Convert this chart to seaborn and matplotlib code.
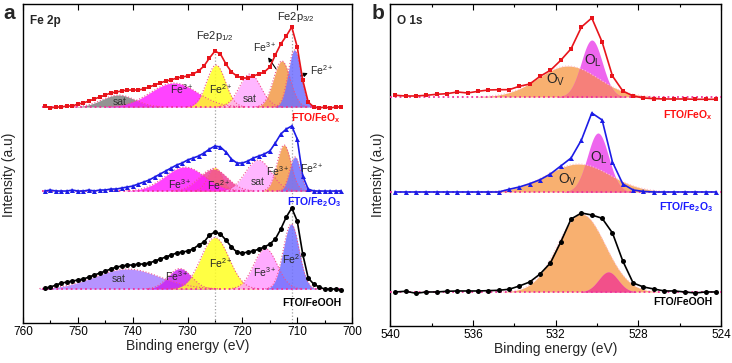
import numpy as np
import matplotlib
matplotlib.use("Agg")
import matplotlib.pyplot as plt
from matplotlib.ticker import MultipleLocator
import seaborn as sns

# ---------------- Fe 2p spectra (height above each baseline) ----------------
fe_energy = [756, 755, 754, 753, 752, 751, 750, 749, 748, 747,
             746, 745, 744, 743, 742, 741, 740, 739, 738, 737,
             736, 735, 734, 733, 732, 731, 730, 729, 728, 727,
             726, 725, 724, 723, 722, 721, 720, 719, 718, 717,
             716, 715, 714, 713, 712, 711, 710, 709, 708, 707,
             706, 705, 704, 703, 702]
fe_feox = [1, -1, 0, 0, 1, 1, 3, 4, 6, 8,
           10, 12, 14, 15, 16, 17, 17, 17, 18, 20,
           22, 24, 26, 27, 29, 30, 31, 33, 36, 41,
           49, 56, 53, 43, 35, 31, 29, 29, 31, 33,
           35, 40, 52, 63, 71, 80, 60, 27, 5, 0,
           -1, 0, -1, 0, 0]
fe_fe2o3 = [0, 1, 0, 0, 0, 1, 0, 0, 1, 0,
            1, 1, 2, 2, 3, 4, 5, 7, 9, 11,
            14, 17, 20, 23, 26, 28, 31, 33, 35, 38,
            42, 45, 44, 39, 32, 28, 28, 30, 33, 35,
            37, 40, 48, 57, 62, 65, 52, 15, 2, 0,
            0, 0, 0, 0, 0]
fe_feooh = [1, 2, 4, 6, 7, 8, 9, 10, 12, 14,
            16, 18, 20, 22, 23, 24, 24, 25, 25, 26,
            28, 30, 32, 34, 36, 37, 38, 40, 44, 47,
            54, 57, 55, 49, 42, 37, 36, 37, 38, 40,
            42, 45, 50, 60, 72, 81, 68, 35, 11, 5,
            2, 0, 0, 0, -1]

# fitted Fe 2p components: centre (eV), height, FWHM (eV)
feox_labels = ["sat", "Fe3+", "Fe2+", "sat", "Fe3+", "Fe2+"]
feox_centers = [742.6, 732.5, 724.8, 718.6, 712.8, 710.5]
feox_heights = [12, 24, 42, 33, 46, 57]
feox_fwhm = [7, 10, 4, 4.6, 3.6, 2.7]

fe2o3_labels = ["Fe2+", "Fe2+", "Fe3+", "sat", "Fe3+", "Fe2+"]
fe2o3_centers = [725.0, 725.3, 730.5, 717.1, 712.4, 710.4]
fe2o3_heights = [23.5, 22, 24, 31, 46, 34]
fe2o3_fwhm = [3, 6, 8.5, 5.5, 3, 2.3]

feooh_labels = ["sat", "Fe3+", "Fe2+", "Fe3+", "Fe2+"]
feooh_centers = [741.0, 731.4, 725.0, 715.8, 711.1]
feooh_heights = [20, 20.5, 51.5, 40.5, 65]
feooh_fwhm = [14, 5, 6, 5, 3.4]

# ---------------- O 1s spectra ----------------
o_energy = [539.75, 539.25, 538.75, 538.25, 537.75, 537.25, 536.75, 536.25,
            535.75, 535.25, 534.75, 534.25, 533.75, 533.25, 532.75, 532.25,
            531.75, 531.25, 530.75, 530.25, 529.75, 529.25, 528.75, 528.25,
            527.75, 527.25, 526.75, 526.25, 525.75, 525.25, 524.75, 524.25]
o_feox = [1.7, 1, 1, 1.7, 2.7, 3.3, 5, 4, 5.7, 7, 7.3, 7.3, 10.7, 13, 20.7, 26.7,
          36.7, 48.3, 70, 79, 55, 21, 6, 1, -1, -1.7, -2, -2, -2, -2.3, -2.3, -2.3]
o_fe2o3 = [0, 0, 0, 0, 0, 0, 0, 0, 0, 0, 0, 2.7, 5, 8.3, 12.3, 18,
           26, 34, 52, 79, 72, 30, 8, 2, 0.5, 0, 0, 0, 0, 0, 0, 0]
o_feooh = [0, 0.7, -1.3, 0, 0, 0.7, 1, 1, 1, 1.3, 1.7, 2.7, 6, 10, 18, 29,
           50, 73, 79, 77, 73.7, 59, 31, 9, 5, 3, 1, 1, 0, -1, 0, 0]

# O 1s components (FeOx, Fe2O3, FeOOH)
ov_centers = [531.4, 530.9, 530.75]
ov_heights = [31, 28, 78]
ov_fwhm = [3.4, 3.6, 2.7]
ol_centers = [530.25, 529.95, 529.45]
ol_heights = [57, 59, 20]
ol_fwhm = [1.2, 1.2, 1.1]

# guide lines for Fe2p1/2 and Fe2p3/2
guide_energies = [725, 711]


def gauss(x, c, h, w):
    return h * np.exp(-4 * np.log(2) * (x - c) ** 2 / w ** 2)


sns.set_style("ticks")
plt.rcParams["font.family"] = ["Liberation Sans", "DejaVu Sans"]
plt.rcParams["mathtext.fontset"] = "custom"
plt.rcParams["mathtext.rm"] = "Liberation Sans"
plt.rcParams["mathtext.it"] = "Liberation Sans:italic"
plt.rcParams["mathtext.bf"] = "Liberation Sans:bold"

fig = plt.figure(figsize=(7.32, 3.63), dpi=100)
ax1 = fig.add_axes([0.0314, 0.110, 0.4496, 0.879])
ax2 = fig.add_axes([0.533, 0.102, 0.452, 0.887])

edge_col = "#f0508a"
base_col = "#f0309a"

# ---------------- panel a ----------------
xs = np.linspace(757, 701, 700)
fe_sets = [
    (fe_feox, 216, feox_centers, feox_heights, feox_fwhm,
     ["#808080", "#ff22ff", "#ffff22", "#ffaaff", "#f39a48", "#7070ff"],
     "#e8141b", "s", 3.2),
    (fe_fe2o3, 132, fe2o3_centers, fe2o3_heights, fe2o3_fwhm,
     ["#ffff22", "#f0409a", "#ff22ff", "#ffaaff", "#f39a48", "#7070ff"],
     "#1c1ce6", "^", 3.6),
    (fe_feooh, 34, feooh_centers, feooh_heights, feooh_fwhm,
     ["#a980ff", "#cc22f2", "#ffff22", "#ff9cff", "#7070ff"],
     "#000000", "o", 3.6),
]

for e in guide_energies:
    top = 270 if e == 725 else 295
    ax1.vlines(e, 0, top, colors="#a0a0a0", linestyles=":", lw=0.9, zorder=1)

for vals, off, cs, hs, ws, cols, lc, mk, ms in fe_sets:
    for c, h, w, col in zip(cs, hs, ws, cols):
        g = gauss(xs, c, h, w)
        m = g > 0.3
        ax1.fill_between(xs[m], off, off + g[m], color=col, alpha=0.85, lw=0, zorder=2)
        ax1.plot(xs[m], off + g[m], color=edge_col, ls=":", lw=0.8, zorder=3)
    ax1.plot([756.5, 702], [off, off], color=base_col, ls=":", lw=1.3, zorder=3)
    sns.lineplot(x=fe_energy, y=np.array(vals) + off, ax=ax1, color=lc, lw=1.2,
                 marker=mk, markersize=ms, mec=lc, mew=0, sort=False, zorder=5)

ax1.set_xlim(760, 700)
ax1.set_ylim(0, 319)

lab_kw = dict(fontsize=7.5, ha="center", va="center", zorder=6)
# FeOx labels
ax1.text(725, 287, r"Fe2p$_{1/2}$", fontsize=8, ha="center", va="center")
ax1.text(710.2, 306, r"Fe2p$_{3/2}$", fontsize=8, ha="center", va="center")
ax1.text(716, 276, r"Fe$^{3+}$", **lab_kw)
ax1.annotate("", xy=(715.6, 268), xytext=(713.6, 252),
             arrowprops=dict(arrowstyle="-|>", color="k", lw=0.8, mutation_scale=6))
ax1.text(705.5, 253, r"Fe$^{2+}$", **lab_kw)
ax1.annotate("", xy=(707.6, 251), xytext=(709.8, 246),
             arrowprops=dict(arrowstyle="-|>", color="k", lw=0.8, mutation_scale=6))
ax1.text(742.4, 221, "sat", color="#333333", **lab_kw)
ax1.text(731, 234, r"Fe$^{3+}$", **lab_kw)
ax1.text(724, 234, r"Fe$^{2+}$", **lab_kw)
ax1.text(718.6, 224, "sat", color="#333333", **lab_kw)
ax1.text(702, 205, r"FTO/FeO$_\mathbf{x}$", color="#ff1010", fontsize=7.5,
         fontweight="bold", ha="right", va="center")
# Fe2O3 labels
ax1.text(731.4, 139, r"Fe$^{3+}$", **lab_kw)
ax1.text(724.4, 138, r"Fe$^{2+}$", **lab_kw)
ax1.text(717.3, 141, "sat", color="#333333", **lab_kw)
ax1.text(713.5, 152, r"Fe$^{3+}$", **lab_kw)
ax1.text(707.4, 155, r"Fe$^{2+}$", **lab_kw)
ax1.text(702, 121, r"FTO/Fe$_\mathbf{2}$O$_\mathbf{3}$", color="#1a1aff", fontsize=7.5,
         fontweight="bold", ha="right", va="center")
# FeOOH labels
ax1.text(742.6, 44, "sat", color="#333333", **lab_kw)
ax1.text(731.9, 47, r"Fe$^{3+}$", **lab_kw)
ax1.text(724, 60, r"Fe$^{2+}$", **lab_kw)
ax1.text(716, 51, r"Fe$^{3+}$", **lab_kw)
ax1.text(710.6, 64, r"Fe$^{2+}$", **lab_kw)
ax1.text(702, 20, "FTO/FeOOH", color="k", fontsize=7.5,
         fontweight="bold", ha="right", va="center")
ax1.text(0.02, 0.965, "Fe 2p", transform=ax1.transAxes, fontsize=8.5,
         fontweight="bold", ha="left", va="top")

# ---------------- panel b ----------------
xo = np.linspace(540, 524, 600)
o_sets = [
    (o_feox, 229, "#e8141b", "s", 3.2, "#f6807a"),
    (o_fe2o3, 134, "#1c1ce6", "^", 3.6, "#f6807a"),
    (o_feooh, 34, "#000000", "o", 3.6, "#f2508a"),
]
for i, (vals, off, lc, mk, ms, ovl) in enumerate(o_sets):
    g_v = gauss(xo, ov_centers[i], ov_heights[i], ov_fwhm[i])
    g_l = gauss(xo, ol_centers[i], ol_heights[i], ol_fwhm[i])
    mv = g_v > 0.3
    ml = g_l > 0.3
    ax2.fill_between(xo[mv], off, off + g_v[mv], color="#f8b070", lw=0, zorder=2)
    ax2.fill_between(xo[ml], off, off + g_l[ml], color="#ee66ee", lw=0, zorder=2)
    g_min = np.minimum(g_v, g_l)
    mm = g_min > 0.3
    ax2.fill_between(xo[mm], off, off + g_min[mm], color=ovl, lw=0, zorder=2)
    ax2.plot(xo[mv], off + g_v[mv], color="#ffc0d0", ls=":", lw=0.8, zorder=3)
    ax2.plot([540, 524], [off, off], color=base_col, ls=":", lw=1.3, zorder=3)
    sns.lineplot(x=o_energy, y=np.array(vals) + off, ax=ax2, color=lc, lw=1.2,
                 marker=mk, markersize=ms, mec=lc, mew=0, sort=False, zorder=5)

ax2.set_xlim(540, 524)
ax2.set_ylim(0, 322)
ax2.text(532.0, 246, r"O$_\mathrm{V}$", fontsize=10, ha="center", va="center")
ax2.text(530.2, 265, r"O$_\mathrm{L}$", fontsize=10, ha="center", va="center")
ax2.text(531.4, 146, r"O$_\mathrm{V}$", fontsize=10, ha="center", va="center")
ax2.text(529.9, 168, r"O$_\mathrm{L}$", fontsize=10, ha="center", va="center")
ax2.text(524.4, 211, r"FTO/FeO$_\mathbf{x}$", color="#ff1010", fontsize=7.5,
         fontweight="bold", ha="right", va="center")
ax2.text(524.4, 119, r"FTO/Fe$_\mathbf{2}$O$_\mathbf{3}$", color="#1a1aff", fontsize=7.5,
         fontweight="bold", ha="right", va="center")
ax2.text(524.4, 24, "FTO/FeOOH", color="k", fontsize=7.5,
         fontweight="bold", ha="right", va="center")
ax2.text(0.02, 0.965, "O 1s", transform=ax2.transAxes, fontsize=8.5,
         fontweight="bold", ha="left", va="top")

# ---------------- axes styling ----------------
for ax, major, minor, lx, ly in [(ax1, 10, 5, -0.022, 0.464), (ax2, 4, 2, -0.017, 0.469)]:
    ax.xaxis.set_major_locator(MultipleLocator(major))
    ax.xaxis.set_minor_locator(MultipleLocator(minor))
    ax.set_yticks([])
    ax.tick_params(axis="x", which="both", direction="in", top=True, labelsize=8.5,
                   colors="k", pad=2)
    ax.tick_params(axis="x", which="major", length=4, width=0.8)
    ax.tick_params(axis="x", which="minor", length=2.5, width=0.8)
    for s in ax.spines.values():
        s.set_linewidth(1.0)
        s.set_color("k")
    ax.set_xlabel("Binding energy (eV)", fontsize=10, labelpad=1)
    ax.set_ylabel("Intensity (a.u)", fontsize=10)
    ax.yaxis.set_label_coords(lx, ly)
ax1.tick_params(axis="x", which="minor", top=False)

fig.text(0.004, 0.99, "a", fontsize=15, fontweight="bold", ha="left", va="top")
fig.text(0.507, 0.99, "b", fontsize=15, fontweight="bold", ha="left", va="top")

fig.savefig("out.png", dpi=100)
